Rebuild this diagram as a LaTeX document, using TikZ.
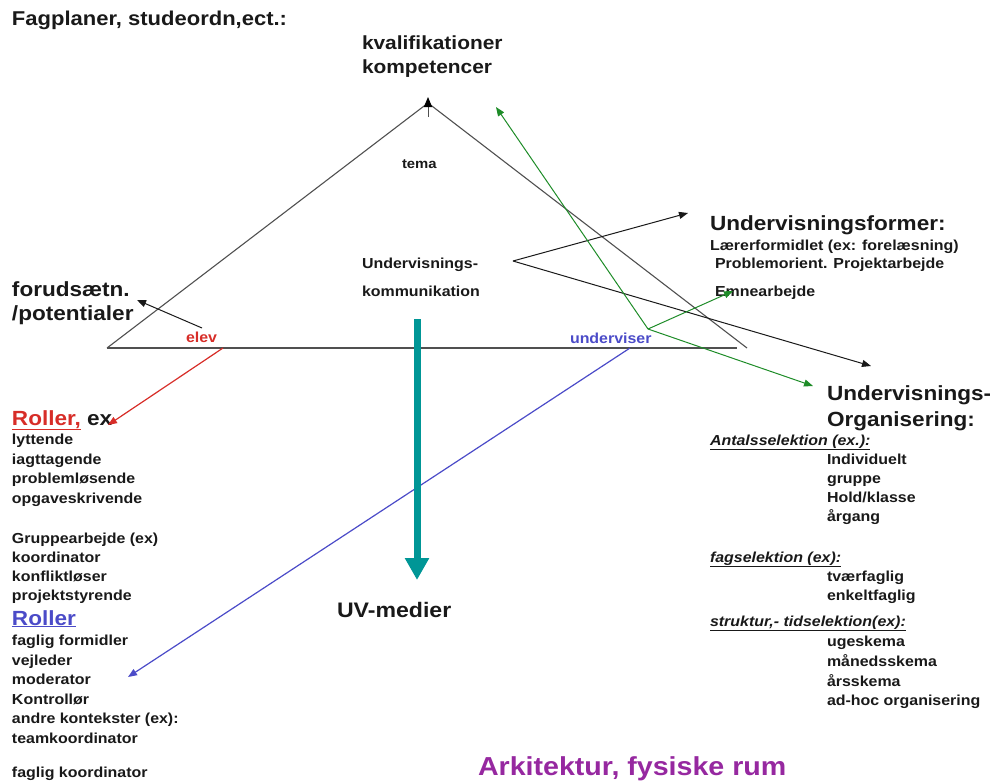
\documentclass[tikz,border=0pt]{standalone}
\usepackage{fontspec}
\setmainfont{Liberation Sans}[FakeStretch=1.1]
\usetikzlibrary{arrows.meta}
\definecolor{redc}{RGB}{215,45,40}
\definecolor{bluec}{RGB}{75,75,200}
\definecolor{greenc}{RGB}{30,140,40}
\definecolor{tealc}{RGB}{0,150,150}
\definecolor{purplec}{RGB}{150,40,160}
\definecolor{txtc}{RGB}{25,25,25}
\definecolor{linec}{RGB}{80,80,80}
\begin{document}
\begin{tikzpicture}[x=1pt,y=-1pt,
 t/.style={anchor=base west, inner sep=0pt, outer sep=0pt, text=txtc, font=\bfseries\fontsize{14.5}{17}\selectfont},
 big/.style={t, font=\bfseries\fontsize{20.5}{24}\selectfont},
 hd/.style={t, font=\bfseries\itshape\fontsize{14.5}{17}\selectfont},
 ln/.style={draw=linec, line width=1.1pt},
 ar/.style={-{Triangle[length=9pt,width=7pt]}}]
\useasboundingbox (0,0) rectangle (990,782);

% triangle
\coordinate (L) at (107,348);
\coordinate (A) at (428,103);
\coordinate (R) at (747,348);
\coordinate (B) at (737,348);
\draw[ln] (L) -- (A) -- (R);
\draw[ln] (L) -- (B);
\coordinate (A0) at (428,117);
\coordinate (A1) at (428,97);
\draw[draw=linec, line width=1pt, -{Triangle[length=10pt,width=8pt,color=black]}] (A0) -- (A1);

% texts top
\node[big, font=\bfseries\fontsize{20}{24}\selectfont] (fag) at (12,25) {Fagplaner, studeordn,ect.:};
\node[big, font=\bfseries\fontsize{19}{24}\selectfont] (kval) at (362,49) {kvalifikationer};
\node[big, font=\bfseries\fontsize{19}{24}\selectfont] (komp) at (362,73) {kompetencer};
\node[t, font=\bfseries\fontsize{13.5}{17}\selectfont] (tema) at (402,168) {tema};
\node[t] (uk1) at (362,268) {Undervisnings-};
\node[t] (uk2) at (362,296) {kommunikation};
\node[big] (foru) at (12,296) {forudsætn.};
\node[big] (pot) at (12,320) {/potentialer};
\node[t, text=redc] (elev) at (186,342) {elev};
\node[t, text=bluec] (underv) at (570,343) {underviser};

% right: Undervisningsformer
\node[big] (uf) at (710,230) {Undervisningsformer:};
\node[t] (uf1) at (710,250) {Lærerformidlet (ex: forelæsning)};
\node[t] (uf2) at (715,268) {Problemorient. Projektarbejde};
\node[t] (uf3) at (715,296) {Emnearbejde};

% right: Undervisnings-Organisering
\node[big] (uo1) at (827,400) {Undervisnings-};
\node[big] (uo2) at (827,426) {Organisering:};
\node[hd] (h1) at (710,445) {\underline{Antalsselektion (ex.):}};
\node[t] (o1) at (827,464) {Individuelt};
\node[t] (o2) at (827,483) {gruppe};
\node[t] (o3) at (827,502) {Hold/klasse};
\node[t] (o4) at (827,521) {årgang};
\node[hd] (h2) at (710,562) {\underline{fagselektion (ex):}};
\node[t] (o5) at (827,581) {tværfaglig};
\node[t] (o6) at (827,600) {enkeltfaglig};
\node[hd] (h3) at (710,626) {\underline{struktur,- tidselektion(ex):}};
\node[t] (o7) at (827,646) {ugeskema};
\node[t] (o8) at (827,666) {månedsskema};
\node[t] (o9) at (827,686) {årsskema};
\node[t] (o10) at (827,705) {ad-hoc organisering};

% left lists
\node[big] (rol1) at (12,425) {\textcolor{redc}{\underline{Roller,}} ex};
\foreach \s/\y [count=\i] in {lyttende/444, iagttagende/464, problemløsende/483, opgaveskrivende/503,
  Gruppearbejde (ex)/543, koordinator/562, konfliktløser/581, projektstyrende/600}
  \node[t] (la\i) at (12,\y) {\s};
\node[big, text=bluec] (rol2) at (12,625) {\underline{Roller}};
\foreach \s/\y [count=\i] in {faglig formidler/645, vejleder/665, moderator/684, Kontrollør/704,
  andre kontekster (ex):/723, teamkoordinator/743, faglig koordinator/777}
  \node[t] (lb\i) at (12,\y) {\s};

\node[big, font=\bfseries\fontsize{21}{24}\selectfont] (uv) at (337,617) {UV-medier};
\node[big, text=purplec, font=\bfseries\fontsize{26}{30}\selectfont] (ark) at (478,775) {Arkitektur, fysiske rum};

% connectors
\coordinate (e0) at (202,328);
\coordinate (e1) at (137,300);
\draw[draw=txtc, line width=1pt, ar] (e0) -- (e1);

\coordinate (r0) at (223,348);
\coordinate (r1) at (108,425);
\draw[draw=redc, line width=1.2pt, ar] (r0) -- (r1);

\coordinate (b0) at (630,348);
\coordinate (b1) at (128,677);
\draw[draw=bluec, line width=1.2pt, ar] (b0) -- (b1);

\coordinate (k0) at (513,261);
\coordinate (k1) at (688,213);
\coordinate (k2) at (871,366);
\draw[draw=txtc, line width=1pt, ar] (k0) -- (k1);
\draw[draw=txtc, line width=1pt, ar] (k0) -- (k2);

\coordinate (g0) at (648,329);
\coordinate (g1) at (496,107);
\coordinate (g2) at (733,291);
\coordinate (g3) at (813,386);
\draw[draw=greenc, line width=1pt, ar] (g0) -- (g1);
\draw[draw=greenc, line width=1pt, ar] (g0) -- (g2);
\draw[draw=greenc, line width=1pt, ar] (g0) -- (g3);

\coordinate (t0) at (417,319);
\coordinate (t1) at (417,580);
\draw[draw=tealc, line width=7pt, -{Triangle[length=22pt,width=23pt]}] (t0) -- (t1);
\end{tikzpicture}
\end{document}
